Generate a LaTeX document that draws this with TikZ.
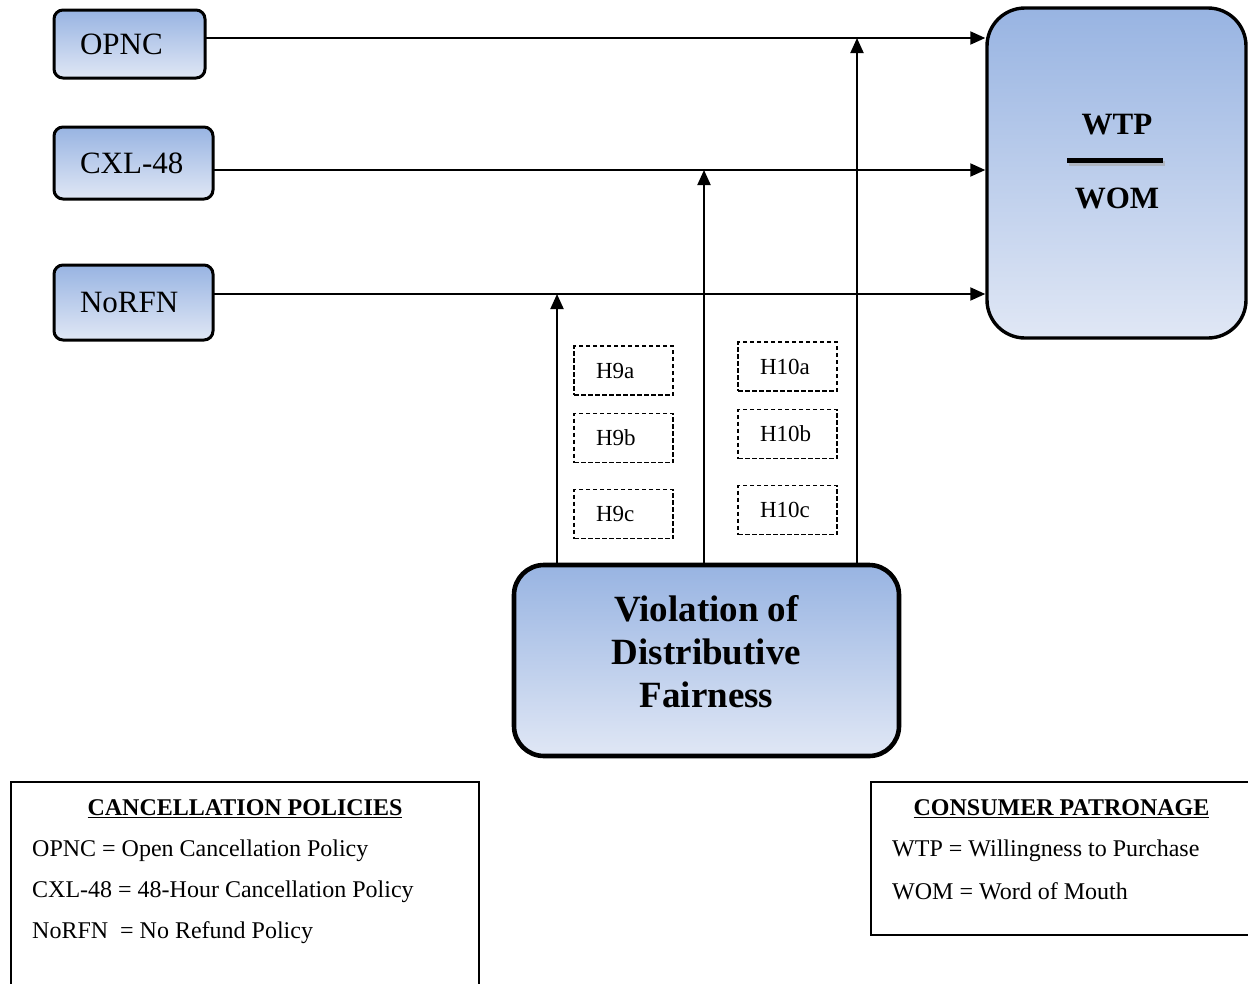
\documentclass[tikz,border=0pt]{standalone}
\usepackage{fontspec}
\setmainfont{Liberation Serif}
\usetikzlibrary{arrows.meta}
\definecolor{boxtop}{RGB}{152,180,226}
\definecolor{boxbot}{RGB}{224,231,245}
\begin{document}
\begin{tikzpicture}[x=1pt,y=-1pt,
  policy/.style={draw, line width=3pt, rounded corners=9pt,
    top color=boxtop, bottom color=boxbot, inner xsep=26pt, inner ysep=0pt,
    text width=#1, align=left, font=\fontsize{31}{36}\selectfont},
  outcome/.style={draw, line width=3.4pt, rounded corners=38pt,
    top color=boxtop, bottom color=boxbot, minimum width=259pt, minimum height=330pt},
  fairness/.style={draw, line width=4.6pt, rounded corners=30pt,
    top color=boxtop, bottom color=boxbot, minimum width=385pt, minimum height=191pt},
  hyp/.style={draw, line width=1.4pt, dash pattern=on 4.5pt off 2.5pt,
    minimum height=49pt, inner xsep=22pt, text width=55pt, align=left,
    font=\fontsize{23}{27}\selectfont},
  legendbox/.style={line width=1.4pt},
  arr/.style={line width=2pt, -{Triangle[length=15pt,width=13pt]}},
  legtitle/.style={font=\fontsize{24}{28}\selectfont\bfseries},
  legtext/.style={anchor=west, inner sep=0pt, font=\fontsize{24}{28}\selectfont}
]
\useasboundingbox[fill=white] (0,0) rectangle (1248,983);

% policy boxes
\node[policy=99pt, minimum height=68pt] (opnc) at (129.5,44) {OPNC};
\node[policy=107pt, minimum height=72pt] (cxl) at (133.5,163) {CXL-48};
\node[policy=107pt, minimum height=75pt] (norfn) at (133.5,302.5) {NoRFN};

% outcome box
\node[outcome] (wtp) at (1116.5,173) {};
\node[font=\fontsize{31}{36}\selectfont\bfseries] (wtplabel) at (1117,125) {WTP};
\node[font=\fontsize{31}{36}\selectfont\bfseries] (womlabel) at (1117,198) {WOM};
\draw[line width=5pt, black!35, opacity=0.6] (1069,163) -- (1165,163);
\draw[line width=5pt] (1067,160) -- (1163,160);

% moderator box
\node[fairness] (viol) at (706.5,660.5) {};
\node[align=center, font=\fontsize{37}{43}\selectfont\bfseries] (violtext) at (706.5,652)
  {Violation of\\Distributive\\Fairness};

% hypothesis labels
\node[hyp] (h9a) at (623.5,370.5) {H9a};
\node[hyp] (h9b) at (623.5,438) {H9b};
\node[hyp] (h9c) at (623.5,514) {H9c};
\node[hyp] (h10a) at (787.5,366.5) {H10a};
\node[hyp] (h10b) at (787.5,434) {H10b};
\node[hyp] (h10c) at (787.5,510) {H10c};

% direct paths
\coordinate (o1) at (205,38);
\coordinate (c1) at (213,170);
\coordinate (n1) at (213,294);
\draw[arr] (o1) -- (wtp.west |- o1);
\draw[arr] (c1) -- (wtp.west |- c1);
\draw[arr] (n1) -- (wtp.west |- n1);

% moderating paths
\coordinate (mn) at (557,294);
\coordinate (mc) at (704,170);
\coordinate (mo) at (857,38);
\draw[arr] (viol.north -| mn) -- (mn);
\draw[arr] (viol.north -| mc) -- (mc);
\draw[arr] (viol.north -| mo) -- (mo);

% legends
\draw[legendbox] (11,990) -- (11,782) -- (479,782) -- (479,990);
\node[legtitle] (lt1) at (245,809) {\underline{CANCELLATION POLICIES}};
\node[legtext] (l1) at (32,851) {OPNC = Open Cancellation Policy};
\node[legtext] (l2) at (32,892) {CXL-48 = 48-Hour Cancellation Policy};
\node[legtext] (l3) at (32,933) {NoRFN\ \ = No Refund Policy};

\draw[legendbox] (1252,782) -- (871,782) -- (871,935) -- (1252,935);
\node[legtitle] (lt2) at (1061.5,809) {\underline{CONSUMER PATRONAGE}};
\node[legtext] (r1) at (892,851) {WTP = Willingness to Purchase};
\node[legtext] (r2) at (892,891) {WOM = Word of Mouth};
\end{tikzpicture}
\end{document}
